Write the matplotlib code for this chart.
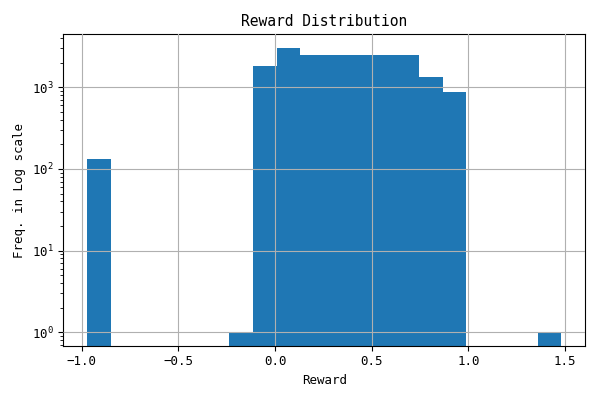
import numpy as np
import matplotlib
matplotlib.use('Agg')
import matplotlib.pyplot as plt

# histogram (20 equal bins)
reward_min = -0.973
reward_max = 1.480
counts = [132, 0, 0, 0, 0, 0, 1, 1816, 3020, 2478,
          2478, 2478, 2478, 2478, 1334, 873, 0, 0, 0, 1]

plt.rcParams['font.family'] = ['DejaVu Sans Mono']
plt.rcParams['font.size'] = 9

edges = np.linspace(reward_min, reward_max, len(counts) + 1)
centers = (edges[:-1] + edges[1:]) / 2

fig = plt.figure(figsize=(6, 4), dpi=100)
ax = fig.add_axes([0.1055, 0.136, 0.8695, 0.778])
ax.hist(centers, bins=edges, weights=counts, color='#1f77b4', log=True)
ax.set_ylim(0.686, 4440)
ax.grid(True, color='#b0b0b0')
ax.set_axisbelow(False)
ax.set_title('Reward Distribution', fontsize=10.5)
ax.set_xlabel('Reward')
ax.set_ylabel('Freq. in Log scale')
fig.savefig('out.png')
